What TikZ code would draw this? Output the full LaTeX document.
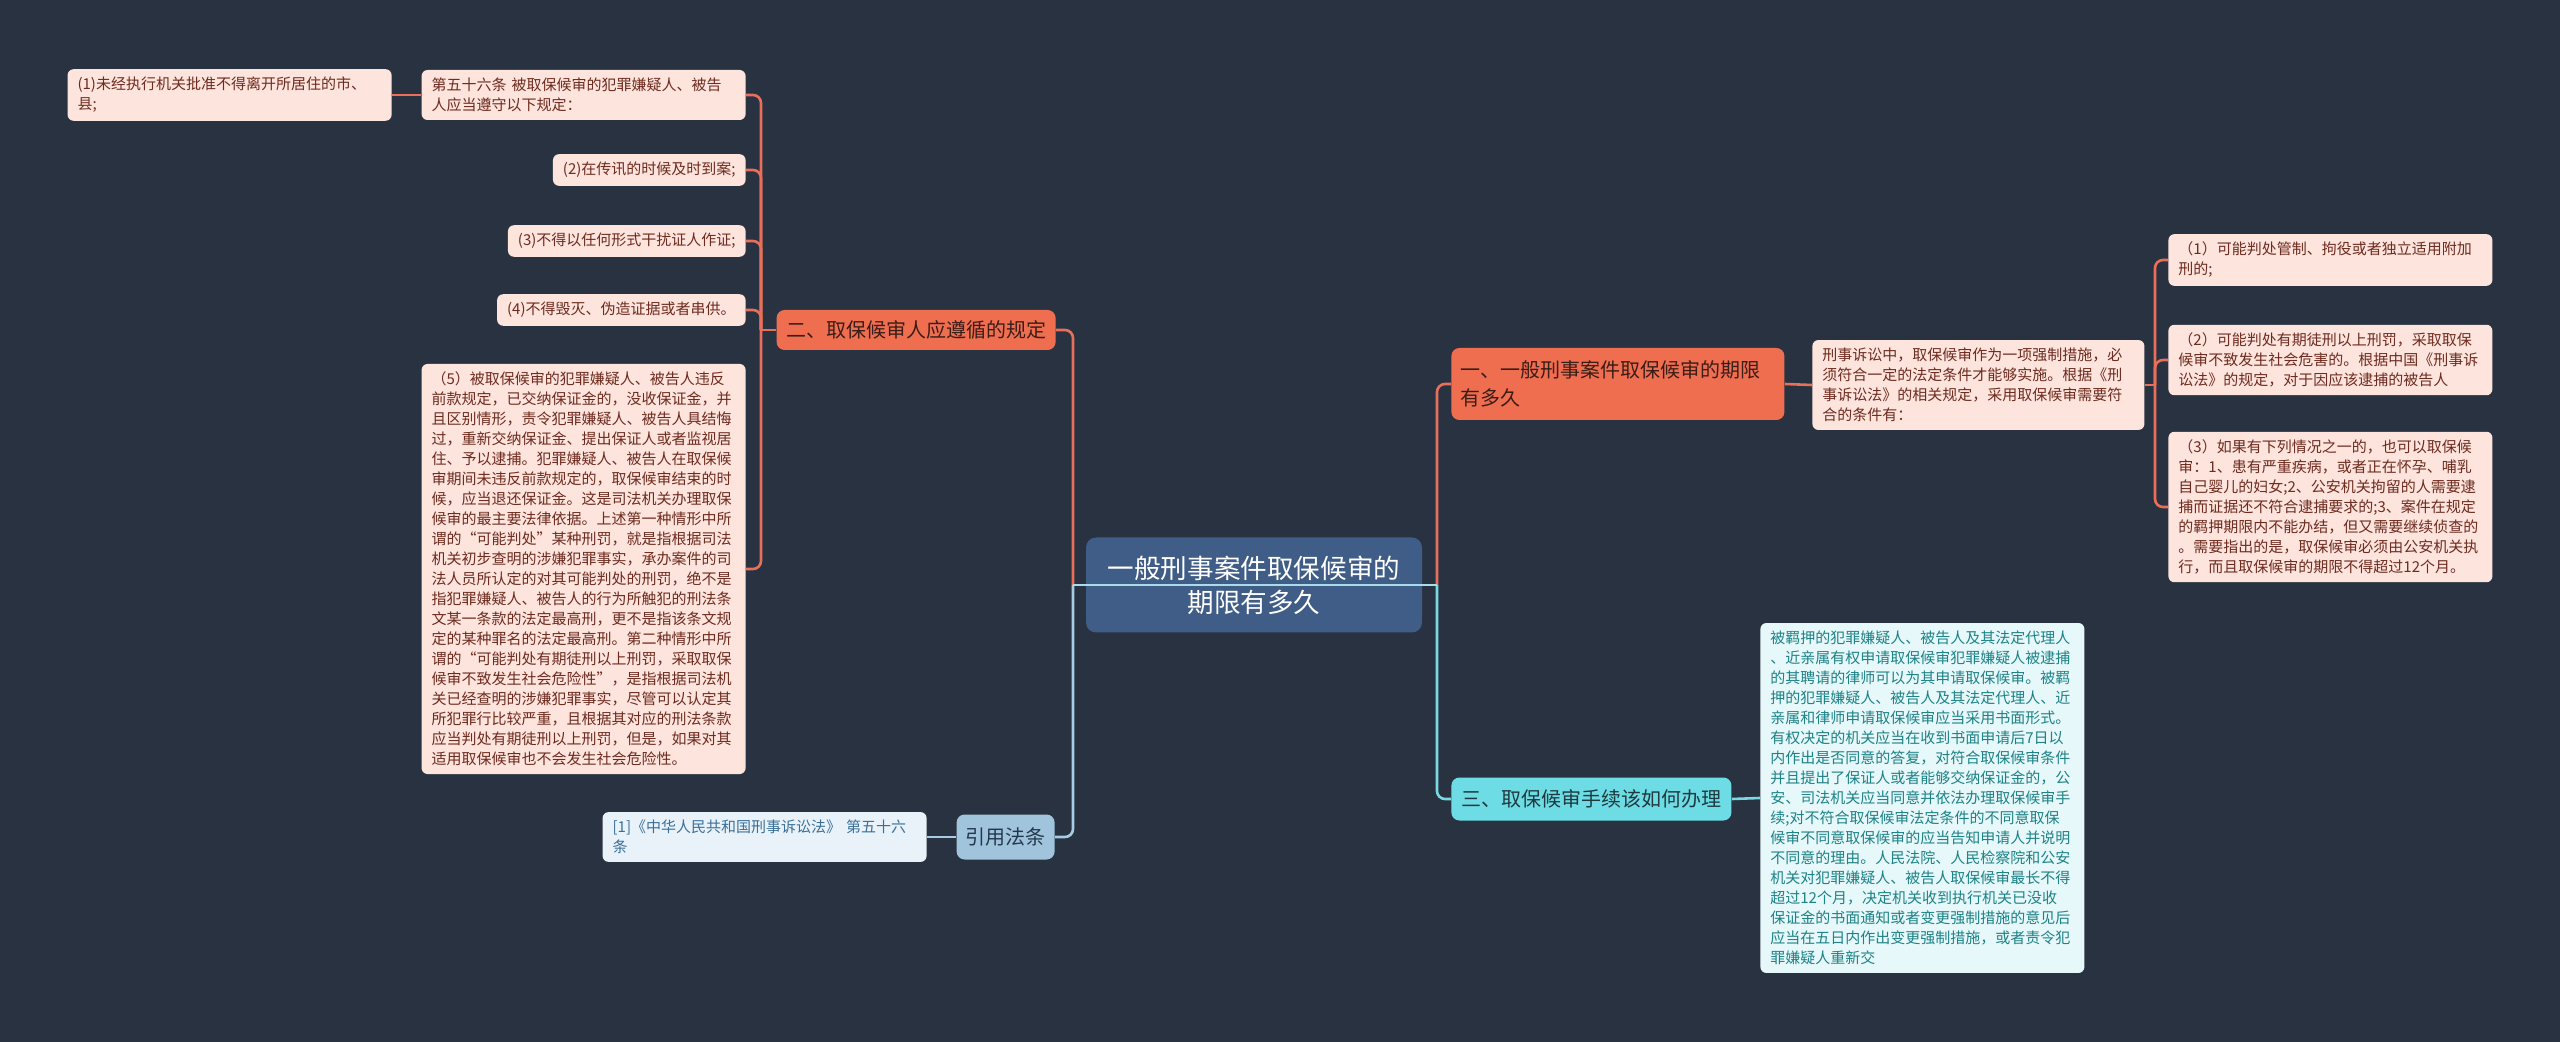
\documentclass[tikz,border=0pt]{standalone}
\usepackage{fontspec}
\newfontfamily\cjk{Noto Sans CJK SC}
\usepackage{tikz}
\usetikzlibrary{positioning}

\definecolor{bgcol}{HTML}{293241}
\definecolor{rootfill}{HTML}{3F5D86}
\definecolor{orfill}{HTML}{F06E50}
\definecolor{ortext}{HTML}{3B1D17}
\definecolor{pinkfill}{HTML}{FDE4DD}
\definecolor{pinktext}{HTML}{6E2B1F}
\definecolor{orcol}{HTML}{E8705A}
\definecolor{cyfill}{HTML}{6EDCE4}
\definecolor{cytext}{HTML}{1E3A40}
\definecolor{cyleaffill}{HTML}{E6F8F9}
\definecolor{cyleaftext}{HTML}{1E8287}
\definecolor{cycol}{HTML}{7AD8E2}
\definecolor{blfill}{HTML}{A0C4DC}
\definecolor{bltext}{HTML}{24384D}
\definecolor{blleaffill}{HTML}{E9F2F8}
\definecolor{blleaftext}{HTML}{3A6F9A}
\definecolor{blcol}{HTML}{A6CBE3}
\definecolor{midcol}{HTML}{A8DCE8}

\tikzset{
  rootbox/.style={fill=rootfill, text=white, rounded corners=5pt,
    font=\cjk\fontsize{13.3}{17}\selectfont, align=center,
    minimum width=168pt, minimum height=47.5pt, inner sep=0pt},
  branch/.style={rounded corners=4pt, font=\cjk\fontsize{10}{14}\selectfont,
    align=left, inner xsep=4.75pt, inner ysep=3pt, minimum height=20pt},
  orbr/.style={branch, fill=orfill, text=ortext},
  cybr/.style={branch, fill=cyfill, text=cytext, inner xsep=5pt, minimum height=21.5pt},
  blbr/.style={branch, fill=blfill, text=bltext, inner xsep=4.5pt, minimum height=22.5pt},
  leaf/.style={rounded corners=3pt, font=\cjk\fontsize{7.5}{10}\selectfont,
    align=left, inner xsep=5pt, inner ysep=4pt},
  orleaf/.style={leaf, fill=pinkfill, text=pinktext},
  cyleaf/.style={leaf, fill=cyleaffill, text=cyleaftext},
  blleaf/.style={leaf, fill=blleaffill, text=blleaftext},
  wide/.style={text width=152pt},
  orline/.style={draw=orcol, line width=1.3pt, rounded corners=4pt},
  cyline/.style={draw=cycol, line width=1.3pt, rounded corners=4pt},
  blline/.style={draw=blcol, line width=1.3pt, rounded corners=4pt}
}

\begin{document}
\begin{tikzpicture}[x=0.5pt,y=-0.5pt]
    \useasboundingbox (0,0) rectangle (2560,1042);
    \fill[bgcol] (0,0) rectangle (2560,1042);

    % Root
    \node[rootbox] (root) at (1254,585) {一般刑事案件取保候审的\\期限有多久};

    % Main branches
    \node[orbr, anchor=east] (er) at (1056,330) {二、取保候审人应遵循的规定};
    \node[blbr, anchor=east] (yf) at (1055,837) {引用法条};
    \node[orbr, anchor=west, text width=157pt, minimum height=36pt] (yi) at (1451,384)
        {一、一般刑事案件取保候审的期限\\有多久};
    \node[cybr, anchor=west] (san) at (1451,799) {三、取保候审手续该如何办理};

    % Left leaves
    \node[orleaf, wide, anchor=east] (d56) at (746,95)
        {第五十六条 被取保候审的犯罪嫌疑人、被告\\人应当遵守以下规定：};
    \node[orleaf, wide, anchor=east] (a1) at (392,95)
        {(1)未经执行机关批准不得离开所居住的市、\\县;};
    \node[orleaf, anchor=east] (a2) at (746,170) {(2)在传讯的时候及时到案;};
    \node[orleaf, anchor=east] (a3) at (746,241) {(3)不得以任何形式干扰证人作证;};
    \node[orleaf, anchor=east] (a4) at (746,310) {(4)不得毁灭、伪造证据或者串供。};
    \node[orleaf, wide, anchor=east] (a5) at (746,569)
        {（5）被取保候审的犯罪嫌疑人、被告人违反\\
         前款规定，已交纳保证金的，没收保证金，并\\
         且区别情形，责令犯罪嫌疑人、被告人具结悔\\
         过，重新交纳保证金、提出保证人或者监视居\\
         住、予以逮捕。犯罪嫌疑人、被告人在取保候\\
         审期间未违反前款规定的，取保候审结束的时\\
         候，应当退还保证金。这是司法机关办理取保\\
         候审的最主要法律依据。上述第一种情形中所\\
         谓的“可能判处”某种刑罚，就是指根据司法\\
         机关初步查明的涉嫌犯罪事实，承办案件的司\\
         法人员所认定的对其可能判处的刑罚，绝不是\\
         指犯罪嫌疑人、被告人的行为所触犯的刑法条\\
         文某一条款的法定最高刑，更不是指该条文规\\
         定的某种罪名的法定最高刑。第二种情形中所\\
         谓的“可能判处有期徒刑以上刑罚，采取取保\\
         候审不致发生社会危险性”，是指根据司法机\\
         关已经查明的涉嫌犯罪事实，尽管可以认定其\\
         所犯罪行比较严重，且根据其对应的刑法条款\\
         应当判处有期徒刑以上刑罚，但是，如果对其\\
         适用取保候审也不会发生社会危险性。};
    \node[blleaf, wide, anchor=east] (yl) at (927,837)
        {[1]《中华人民共和国刑事诉讼法》 第五十六\\条};

    % Right leaves
    \node[orleaf, anchor=west, text width=156pt] (xs) at (1812,385)
        {刑事诉讼中，取保候审作为一项强制措施，必\\
         须符合一定的法定条件才能够实施。根据《刑\\
         事诉讼法》的相关规定，采用取保候审需要符\\
         合的条件有：};
    \node[orleaf, wide, anchor=west] (b1) at (2168,260)
        {（1）可能判处管制、拘役或者独立适用附加\\刑的;};
    \node[orleaf, wide, anchor=west] (b2) at (2168,360)
        {（2）可能判处有期徒刑以上刑罚，采取取保\\
         候审不致发生社会危害的。根据中国《刑事诉\\
         讼法》的规定，对于因应该逮捕的被告人};
    \node[orleaf, wide, anchor=west] (b3) at (2168,507)
        {（3）如果有下列情况之一的，也可以取保候\\
         审：1、患有严重疾病，或者正在怀孕、哺乳\\
         自己婴儿的妇女;2、公安机关拘留的人需要逮\\
         捕而证据还不符合逮捕要求的;3、案件在规定\\
         的羁押期限内不能办结，但又需要继续侦查的\\
         。需要指出的是，取保候审必须由公安机关执\\
         行，而且取保候审的期限不得超过12个月。};
    \node[cyleaf, wide, anchor=west] (sl) at (1760,798)
        {被羁押的犯罪嫌疑人、被告人及其法定代理人\\
         、近亲属有权申请取保候审犯罪嫌疑人被逮捕\\
         的其聘请的律师可以为其申请取保候审。被羁\\
         押的犯罪嫌疑人、被告人及其法定代理人、近\\
         亲属和律师申请取保候审应当采用书面形式。\\
         有权决定的机关应当在收到书面申请后7日以\\
         内作出是否同意的答复，对符合取保候审条件\\
         并且提出了保证人或者能够交纳保证金的，公\\
         安、司法机关应当同意并依法办理取保候审手\\
         续;对不符合取保候审法定条件的不同意取保\\
         候审不同意取保候审的应当告知申请人并说明\\
         不同意的理由。人民法院、人民检察院和公安\\
         机关对犯罪嫌疑人、被告人取保候审最长不得\\
         超过12个月，决定机关收到执行机关已没收\\
         保证金的书面通知或者变更强制措施的意见后\\
         应当在五日内作出变更强制措施，或者责令犯\\
         罪嫌疑人重新交};

    % Connectors
    \coordinate (lj) at (1073,585);
    \coordinate (rj) at (1437,585);
    \coordinate (ej) at (761,330);
    \coordinate (xj) at (2155,385);

    \draw[orline] (lj) |- (er.east);
    \draw[blline] (lj) |- (yf.east);
    \draw[orline] (rj) |- (yi.west);
    \draw[cyline] (rj) |- (san.west);
    \draw[draw=midcol, line width=1.3pt] (lj) -- (rj);

    \draw[orline] (er.west) -- (ej);
    \foreach \n in {d56,a2,a3,a4,a5}
        \draw[orline] (ej) |- (\n.east);
    \draw[orline] (d56.west) -- (a1.east);

    \draw[orline] (yi.east) -- (xs.west);
    \draw[orline] (xs.east) -- (xj);
    \foreach \n in {b1,b2,b3}
        \draw[orline] (xj) |- (\n.west);

    \draw[cyline] (san.east) -- (sl.west);
    \draw[blline] (yf.west) -- (yl.east);
\end{tikzpicture}
\end{document}
